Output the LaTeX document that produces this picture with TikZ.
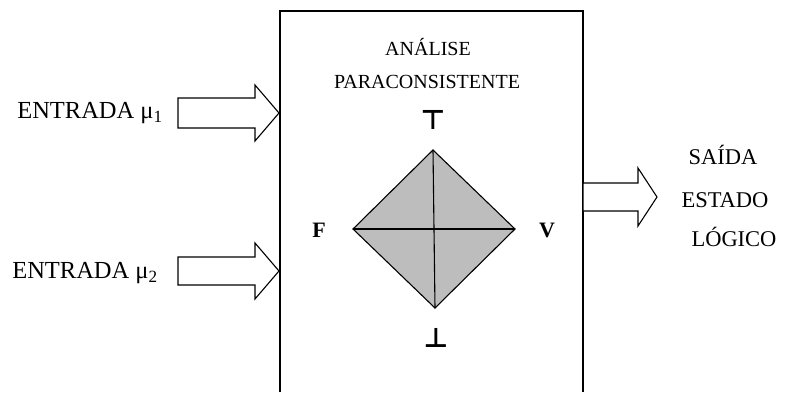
\documentclass[tikz,border=0pt]{standalone}
\usepackage{fontspec}
\setmainfont{Liberation Serif}
\newfontfamily\symfont{DejaVu Sans}
\usepackage{tikz}
\usepackage{xcolor}

\definecolor{quadgray}{gray}{0.74}

% hollow block arrow: tail x, head x, tip x, y, half shaft, half head
\newcommand{\blockarrow}[6]{%
  \draw[arrowline] (#1,{#4-#5}) -- (#2,{#4-#5}) -- (#2,{#4-#6}) -- (#3,#4)
    -- (#2,{#4+#6}) -- (#2,{#4+#5}) -- (#1,{#4+#5}) -- cycle;}

\begin{document}
\begin{tikzpicture}[
        x=1pt, y=-1pt, line width=1.1pt,
        outer/.style={font=\fontsize{24.5}{28}\selectfont, inner sep=0pt},
        outerright/.style={font=\fontsize{22.5}{26}\selectfont, inner sep=0pt},
        inner/.style={font=\fontsize{20}{24}\selectfont, inner sep=0pt},
        corner/.style={font=\fontsize{22}{24}\selectfont\bfseries, inner sep=0pt},
        lattice/.style={font=\fontsize{27}{30}\selectfont\symfont\bfseries, inner sep=0pt},
        arrowline/.style={draw=black, fill=white, line width=1.1pt, line join=miter}
      ]
        \useasboundingbox (0,0) rectangle (798,392);
        % box, open at the bottom
        \draw (280,392) -- (280,11) -- (583,11) -- (583,392);
        \node[inner] (title1) at (428,47) {ANÁLISE};
        \node[inner] (title2) at (427,82) {PARACONSISTENTE};
        % lattice
        \coordinate (top) at (433,150);
        \coordinate (left) at (353,229);
        \coordinate (right) at (515,229);
        \coordinate (bottom) at (435,308);
        \fill[quadgray] (top) -- (right) -- (bottom) -- (left) -- cycle;
        \draw[line join=miter] (top) -- (right) -- (bottom) -- (left) -- cycle;
        \draw (top) -- (bottom);
        \draw (left) -- (right);
        \node[lattice] (T) at (433,120) {⊤};
        \node[lattice] (B) at (436,338) {⊥};
        \node[corner] (F) at (319,230) {F};
        \node[corner] (V) at (547,230) {V};
        % inputs
        \node[outer] (in1) at (90,113) {ENTRADA μ\textsubscript{1}};
        \node[outer] (in2) at (85,273) {ENTRADA μ\textsubscript{2}};
        \blockarrow{178}{255}{279}{113}{15}{28}
        \blockarrow{178}{255}{279}{271}{14}{28}
        % output
        \blockarrow{583}{638}{657}{197}{14}{29}
        \node[outerright] (out1) at (723,155) {SAÍDA};
        \node[outerright] (out2) at (725,200) {ESTADO};
        \node[outerright] (out3) at (734,237) {LÓGICO};
      \end{tikzpicture}
\end{document}
